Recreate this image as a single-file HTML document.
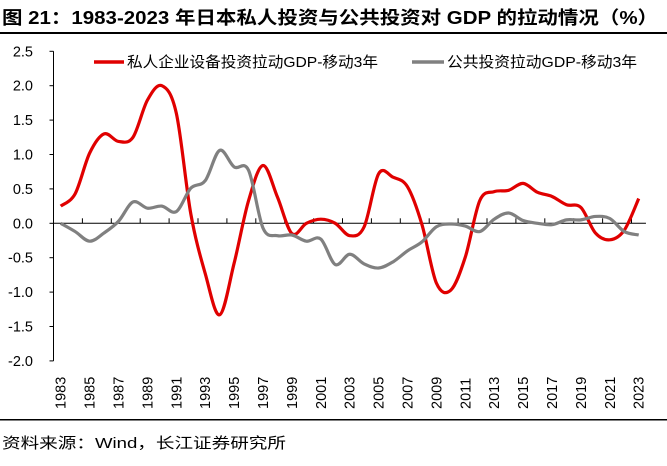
<!DOCTYPE html>
<html><head><meta charset="utf-8"><style>
body{margin:0;width:667px;height:461px;background:#fff;font-family:"Liberation Sans","Noto Sans CJK SC",sans-serif;overflow:hidden}
</style></head><body>
<svg width="667" height="461" id="c" font-family="Liberation Sans, Noto Sans CJK SC, sans-serif">
<text x="2" y="24" font-size="18" font-weight="bold" textLength="656" lengthAdjust="spacingAndGlyphs">图 21：1983-2023 年日本私人投资与公共投资对 GDP 的拉动情况（%）</text>
<rect x="0" y="32" width="667" height="2" fill="#000"/>
<rect x="0" y="419" width="667" height="1.5" fill="#000"/>
<text x="2" y="448" font-size="15" textLength="284" lengthAdjust="spacingAndGlyphs">资料来源：Wind，长江证券研究所</text>
<g id="ax"></g><g id="ln"></g>
<g>
<line x1="94" y1="62" x2="124" y2="62" stroke="#e00000" stroke-width="3.5"/>
<text x="127" y="67" font-size="15" textLength="251" lengthAdjust="spacingAndGlyphs">私人企业设备投资拉动GDP-移动3年</text>
<line x1="412" y1="62" x2="444" y2="62" stroke="#808080" stroke-width="3.5"/>
<text x="447" y="67" font-size="15" textLength="190" lengthAdjust="spacingAndGlyphs">公共投资拉动GDP-移动3年</text>
</g>
</svg>
<script>
const years=[];for(let y=1983;y<=2023;y++)years.push(y);
const privateInv=[0.25,0.43,1.02,1.3,1.19,1.25,1.79,2.0,1.6,0.14,-0.73,-1.33,-0.58,0.33,0.84,0.38,-0.15,0.0,0.06,0.0,-0.18,-0.05,0.72,0.67,0.53,-0.02,-0.87,-0.97,-0.49,0.33,0.46,0.48,0.58,0.45,0.39,0.27,0.23,-0.14,-0.24,-0.1,0.36];
const publicInv=[0.0,-0.12,-0.26,-0.14,0.03,0.31,0.22,0.25,0.17,0.51,0.62,1.06,0.82,0.77,-0.07,-0.18,-0.17,-0.26,-0.23,-0.6,-0.45,-0.59,-0.65,-0.56,-0.4,-0.27,-0.05,-0.01,-0.04,-0.12,0.06,0.15,0.04,0.0,-0.02,0.05,0.05,0.1,0.07,-0.12,-0.17];
const yTicks=[2.5,2.0,1.5,1.0,0.5,0.0,-0.5,-1.0,-1.5,-2.0];
const NS="http://www.w3.org/2000/svg";
const x0=53.5,cw=14.45,yZero=223.3,ppu=68.8;
const X=i=>x0+cw*(i+0.5), Y=v=>yZero-v*ppu;
const ax=document.getElementById('ax'),ln=document.getElementById('ln');
function mk(t,a,p){const e=document.createElementNS(NS,t);for(const k in a)e.setAttribute(k,a[k]);(p||ax).appendChild(e);return e;}
let e=mk('line',{x1:x0,y1:Y(2.5),x2:x0,y2:Y(-2),stroke:'#000','stroke-width':1});


yTicks.forEach(v=>{
 const t=mk('line',{x1:x0-4,y1:Y(v),x2:x0,y2:Y(v),stroke:'#000'});
 
 
 const l=mk('text',{x:33,y:Y(v)+5,'font-size':14.5,'text-anchor':'end'});l.textContent=v.toFixed(1);
 
 
});
e=mk('line',{x1:x0,y1:yZero,x2:x0+cw*years.length,y2:yZero,stroke:'#000','stroke-width':1});


for(let i=0;i<=years.length;i+=2){
 const t=mk('line',{x1:x0+cw*i,y1:yZero,x2:x0+cw*i,y2:yZero-5,stroke:'#000'});
 
 
}
years.forEach((y,i)=>{if(i%2)return;
 const l=mk('text',{x:0,y:0,'font-size':14.5,transform:`translate(${X(i)+5},409) rotate(-90)`});l.textContent=y;
 
 
});
function path(vals){const p=vals.map((v,i)=>[X(i),Y(v)]);let d=`M${p[0][0]},${p[0][1]}`;
 for(let i=0;i<p.length-1;i++){const a=p[i-1]||p[i],b=p[i],c=p[i+1],n=p[i+2]||c;
 d+=`C${b[0]+(c[0]-a[0])/6},${b[1]+(c[1]-a[1])/6} ${c[0]-(n[0]-b[0])/6},${c[1]-(n[1]-b[1])/6} ${c[0]},${c[1]}`;}return d;}
e=mk('path',{d:path(privateInv),fill:'none',stroke:'#e00000','stroke-width':3.2,'stroke-linejoin':'round'},ln);


e=mk('path',{d:path(publicInv),fill:'none',stroke:'#808080','stroke-width':3.2,'stroke-linejoin':'round'},ln);


</script>
</body></html>
